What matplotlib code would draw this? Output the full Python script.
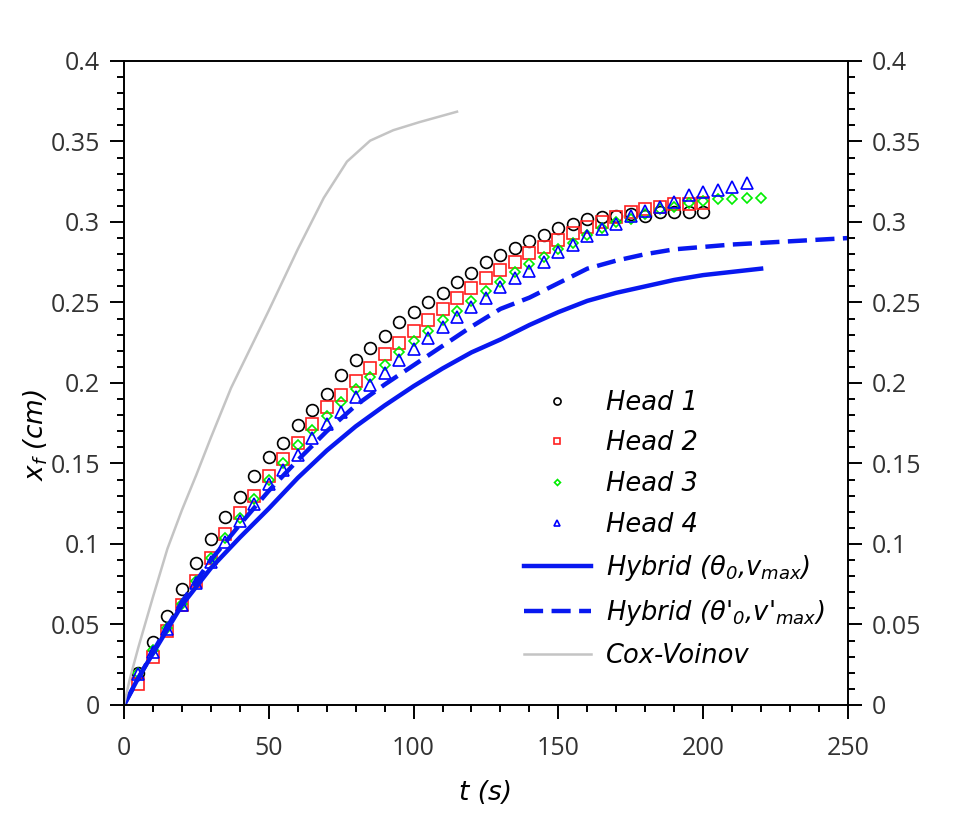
import numpy as np
import matplotlib
matplotlib.use("Agg")
import matplotlib.pyplot as plt
from matplotlib.ticker import MultipleLocator

# ---------------------------------------------------------------------------
# Data
# ---------------------------------------------------------------------------
t_head1 = np.arange(5, 201, 5)
head1 = [0.020, 0.039, 0.055, 0.072, 0.088, 0.103, 0.117, 0.129, 0.142, 0.154,
         0.163, 0.174, 0.183, 0.193, 0.205, 0.214, 0.2215, 0.229, 0.238, 0.244,
         0.250, 0.256, 0.263, 0.2685, 0.275, 0.2795, 0.284, 0.288, 0.292, 0.296,
         0.299, 0.302, 0.303, 0.304, 0.305, 0.304, 0.306, 0.306, 0.306, 0.306]

t_head2 = np.arange(5, 201, 5)
head2 = [0.013, 0.030, 0.046, 0.062, 0.077, 0.091, 0.106, 0.119, 0.130, 0.142,
         0.153, 0.1625, 0.1745, 0.185, 0.1925, 0.201, 0.209, 0.218, 0.225, 0.232,
         0.239, 0.246, 0.253, 0.259, 0.265, 0.270, 0.275, 0.2805, 0.2847, 0.289,
         0.293, 0.297, 0.300, 0.303, 0.3065, 0.308, 0.309, 0.311, 0.311, 0.312]

t_head3 = np.arange(5, 221, 5)
head3 = [0.020, 0.034, 0.048, 0.063, 0.077, 0.091, 0.104, 0.116, 0.128, 0.140,
         0.150, 0.1615, 0.171, 0.1795, 0.188, 0.196, 0.204, 0.211, 0.219, 0.226,
         0.232, 0.239, 0.245, 0.251, 0.257, 0.263, 0.269, 0.274, 0.278, 0.283,
         0.287, 0.292, 0.296, 0.300, 0.302, 0.305, 0.308, 0.3095, 0.312, 0.313,
         0.314, 0.314, 0.315, 0.315]

t_head4 = np.arange(5, 216, 5)
head4 = [0.019, 0.033, 0.047, 0.062, 0.076, 0.089, 0.101, 0.114, 0.125, 0.137,
         0.146, 0.1555, 0.1656, 0.1745, 0.182, 0.191, 0.199, 0.206, 0.214, 0.221,
         0.228, 0.2346, 0.241, 0.2474, 0.2526, 0.2594, 0.265, 0.2698, 0.275, 0.2815,
         0.2857, 0.2913, 0.2954, 0.299, 0.3037, 0.307, 0.3095, 0.3126, 0.3168, 0.3184,
         0.320, 0.322, 0.324]

t_hyb1 = [0, 5, 10, 20, 30, 40, 50, 60, 70, 80, 90, 100, 110, 120, 130, 140,
          150, 160, 170, 180, 190, 200, 210, 220]
hyb1 = [0, 0.017, 0.032, 0.062, 0.085, 0.104, 0.122, 0.141, 0.158, 0.173, 0.186,
        0.198, 0.209, 0.219, 0.227, 0.236, 0.244, 0.251, 0.256, 0.260, 0.264,
        0.267, 0.269, 0.271]

t_hyb2 = [0, 10, 20, 30, 40, 50, 60, 70, 80, 90, 100, 110, 120, 130, 140, 150,
          160, 170, 180, 190, 200, 210, 220, 230, 240, 250]
hyb2 = [0, 0.033, 0.064, 0.090, 0.112, 0.133, 0.152, 0.170, 0.186, 0.199, 0.211,
        0.223, 0.235, 0.246, 0.253, 0.262, 0.271, 0.276, 0.280, 0.283, 0.2845,
        0.286, 0.287, 0.288, 0.289, 0.290]

t_cox = [0, 2, 5, 10, 15, 20, 25, 30, 37, 50, 60, 69, 77, 85, 93, 102, 115]
cox = [0, 0.016, 0.036, 0.067, 0.097, 0.121, 0.143, 0.166, 0.197, 0.245, 0.283,
       0.315, 0.3375, 0.3505, 0.357, 0.362, 0.3685]

# ---------------------------------------------------------------------------
# Plot
# ---------------------------------------------------------------------------
plt.rcParams['mathtext.fontset'] = 'custom'
plt.rcParams['mathtext.it'] = 'DejaVu Sans:italic'
plt.rcParams['mathtext.rm'] = 'DejaVu Sans:italic'

fig = plt.figure(figsize=(9.61, 8.25), dpi=100)
ax = fig.add_axes([0.129, 0.1455, 0.7534, 0.7806])

ax.plot(t_head1, head1, 'o', ms=8.5, mfc='none', mec='black', mew=1.2, label='Head 1')
ax.plot(t_head2, head2, 's', ms=8.3, mfc='none', mec='#ff2020', mew=1.2, label='Head 2')
ax.plot(t_head3, head3, 'D', ms=5.0, mfc='none', mec='#00ee00', mew=1.2, label='Head 3')
ax.plot(t_head4, head4, '^', ms=8.0, mfc='none', mec='#0000ff', mew=1.2, label='Head 4')
ax.plot(t_hyb1, hyb1, '-', color='#0818f0', lw=3.2, label=r'Hybrid ($\theta_0$,$v_{max}$)')
ax.plot(t_hyb2, hyb2, '--', color='#0818f0', lw=3.2, dashes=(4.3, 1.9),
        label=r"Hybrid ($\theta$'$_0$,v'$_{max}$)")
ax.plot(t_cox, cox, '-', color='#c4c4c4', lw=1.8, label='Cox-Voinov')

ax.set_xlim(0, 250)
ax.set_ylim(0, 0.4)
ax.xaxis.set_major_locator(MultipleLocator(50))
ax.xaxis.set_minor_locator(MultipleLocator(10))
ax.yaxis.set_minor_locator(MultipleLocator(0.01))
ax.set_yticks(np.arange(0, 0.401, 0.05))
ax.set_yticklabels(['0', '0.05', '0.1', '0.15', '0.2', '0.25', '0.3', '0.35', '0.4'])

ax.tick_params(which='both', direction='out', right=True, labelright=True,
               width=1.4, colors='black', labelcolor='#333333', labelsize=18)
ax.tick_params(which='major', length=10, pad=7)
ax.tick_params(which='minor', length=5)
ax.tick_params(axis='x', which='major', pad=12)
for lbl in ax.get_xticklabels() + ax.get_yticklabels():
    lbl.set_family('Open Sans')
for sp in ax.spines.values():
    sp.set_linewidth(1.4)

ax.set_xlabel('t (s)', fontsize=19, style='italic', labelpad=14)
fig.text(0.037, 0.473, r'$x_f$ (cm)', rotation=90, fontsize=19, style='italic',
         ha='center', va='center')

leg = ax.legend(loc='lower right', bbox_to_anchor=(1.0, 0.02), frameon=False,
                prop={'style': 'italic', 'size': 18.5},
                markerscale=0.6, handlelength=2.6, handletextpad=0.6,
                labelspacing=0.58, borderaxespad=0.5)

fig.savefig('out.png', dpi=100)
